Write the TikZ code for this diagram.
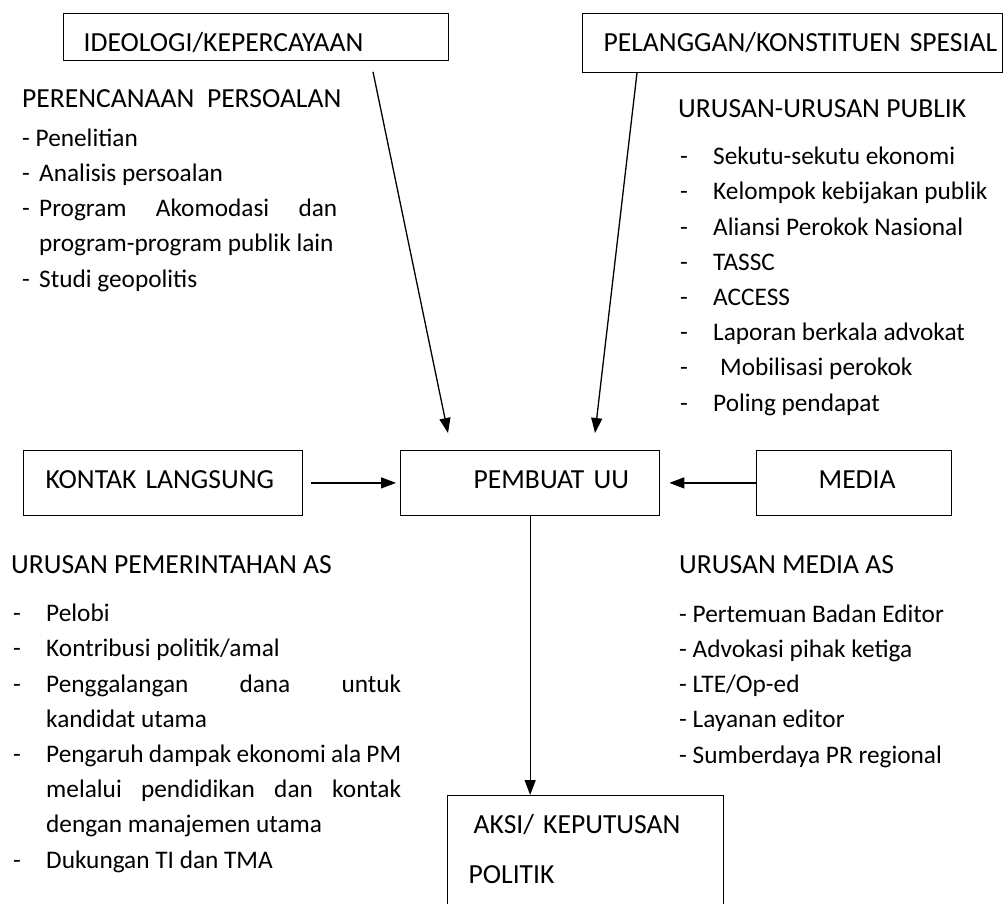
\documentclass[tikz,border=0pt]{standalone}
\usepackage{fontspec}
\setmainfont{Carlito}
\usetikzlibrary{arrows.meta,calc}
\newcommand{\listdash}[1]{\makebox[#1][l]{-}}

\begin{document}
\begin{tikzpicture}[x=1pt, y=-1pt,
  every node/.style={font=\fontsize{27.6}{35.2}\selectfont},
  box/.style={draw, line width=1.3pt, anchor=north west, inner sep=0pt, align=left, text height=37.5pt},
  heading/.style={anchor=base west, inner sep=0pt},
  list/.style={anchor=base west, inner sep=0pt, align=left, font=\fontsize{25.3}{35.2}\selectfont},
  arr/.style={-{Triangle[length=15pt,width=11pt]}, line width=1.3pt}
]
\useasboundingbox (0,0) rectangle (1003,903);
\clip (0,0) rectangle (1003,903);

% boxes
\node[box, text width=385pt, text depth=9pt] (ideologi) at (63,13) {\hspace*{20pt}\mbox{IDEOLOGI/KEPERCAYAAN}};
\node[box, text width=420pt, text depth=21pt] (pelanggan) at (582,13) {\hspace*{21pt}\mbox{PELANGGAN/KONSTITUEN SPESIAL}};
\node[box, text width=279pt, text depth=27pt] (kontak) at (23,450) {\hspace*{22pt}\mbox{KONTAK LANGSUNG}};
\node[box, text width=259pt, text depth=27pt] (pembuat) at (400,450) {\hspace*{73pt}\mbox{PEMBUAT UU}};
\node[box, text width=195pt, text depth=27pt] (media) at (756,450) {\hspace*{62pt}MEDIA};
\node[box, text width=276pt, text depth=160pt] (aksi) at (447,795) {\hspace*{26pt}\mbox{AKSI/ KEPUTUSAN}\\[14.8pt]\hspace*{21pt}POLITIK};

% text blocks (placed by their last baseline)
\node[heading] (perencanaan) at (22,107) {PERENCANAAN\ \ PERSOALAN};
\node[list] (perencanaanlist) at (22,287) {- Penelitian\\
  \listdash{17pt}Analisis persoalan\\
  \listdash{17pt}\makebox[298pt][s]{Program Akomodasi dan}\\
  \hspace*{17pt}program-program publik lain\\
  \listdash{17pt}Studi geopolitis};

\node[heading] (publik) at (678,117) {URUSAN-URUSAN PUBLIK};
\node[list] (publiklist) at (680,411) {\listdash{33pt}Sekutu-sekutu ekonomi\\
  \listdash{33pt}Kelompok kebijakan publik\\
  \listdash{33pt}Aliansi Perokok Nasional\\
  \listdash{33pt}TASSC\\
  \listdash{33pt}ACCESS\\
  \listdash{33pt}Laporan berkala advokat\\
  \listdash{33pt}\hspace*{7pt}Mobilisasi perokok\\
  \listdash{33pt}Poling pendapat};

\node[heading] (pemerintahan) at (11,573) {URUSAN PEMERINTAHAN AS};
\node[list] (pemerintahanlist) at (13,868) {\listdash{33pt}Pelobi\\
  \listdash{33pt}Kontribusi politik/amal\\
  \listdash{33pt}\makebox[355pt][s]{Penggalangan dana untuk}\\
  \hspace*{33pt}kandidat utama\\
  \listdash{33pt}\makebox[355pt][s]{Pengaruh dampak ekonomi ala PM}\\
  \hspace*{33pt}\makebox[355pt][s]{melalui pendidikan dan kontak}\\
  \hspace*{33pt}dengan manajemen utama\\
  \listdash{33pt}Dukungan TI dan TMA};

\node[heading] (mediaas) at (679,573) {URUSAN MEDIA AS};
\node[list] (mediaaslist) at (679,763) {- Pertemuan Badan Editor\\
  - Advokasi pihak ketiga\\
  - LTE/Op-ed\\
  - Layanan editor\\
  - Sumberdaya PR regional};

% connectors
\draw[arr] ($(ideologi.south west)+(310,11)$) -- ($(pembuat.north west)+(48,-17)$);
\draw[arr] ($(pelanggan.south west)+(55,0)$) -- ($(pembuat.north west)+(195,-17)$);
\draw[arr] ([xshift=8pt]kontak.east) -- ([xshift=-4pt]pembuat.west);
\draw[arr] (media.west) -- ([xshift=9pt]pembuat.east);
\draw[arr] (pembuat.south) -- (pembuat.south |- aksi.north);
\end{tikzpicture}
\end{document}
